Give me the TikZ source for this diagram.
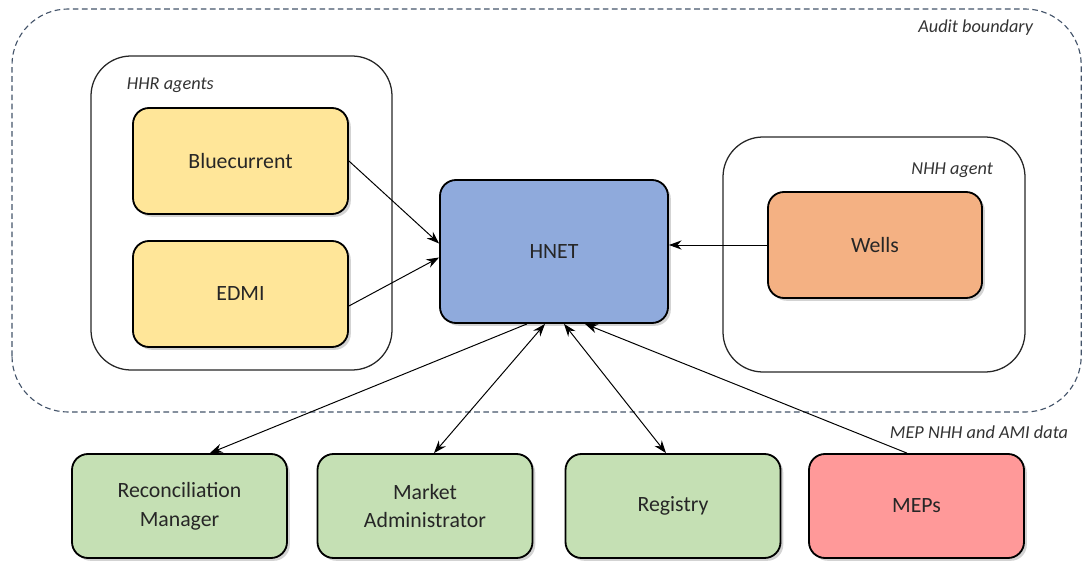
\documentclass[tikz,border=0pt]{standalone}
\usepackage{fontspec}
\setmainfont{Carlito}
\usetikzlibrary{arrows.meta,calc,shadows}
\definecolor{hhrfill}{HTML}{FFE699}
\definecolor{hnetfill}{HTML}{8FAADC}
\definecolor{nhhfill}{HTML}{F4B183}
\definecolor{partyfill}{HTML}{C5E0B4}
\definecolor{mepfill}{HTML}{FF9999}
\definecolor{auditline}{HTML}{44546A}
\tikzset{box/.style={draw=black,line width=1.3pt,rounded corners=0.4cm,minimum width=5.375cm,minimum height=2.6cm,align=center,text=black!85,font=\fontsize{15.5}{20.5}\selectfont,drop shadow={shadow xshift=0.07cm,shadow yshift=-0.07cm,opacity=0.35}},
  grp/.style={draw=black!85,line width=0.9pt,rounded corners=1cm},
  grplbl/.style={font=\fontsize{13}{15}\selectfont\itshape,text=black!80},
  flow/.style={line width=0.7pt}}
\begin{document}
\begin{tikzpicture}[>={Stealth[length=9pt,width=6.5pt]},line join=round]
\useasboundingbox (0,0) rectangle (27.075,14.075);
% --- audit boundary and agent groups
\draw[auditline,line width=0.8pt,dash pattern=on 4pt off 2.5pt,rounded corners=1.4cm] (0.3,3.775) rectangle (27.03,13.85);
\node[grplbl,anchor=east] (audit) at (25.95,13.375) {Audit boundary};
\draw[grp] (2.275,4.825) rectangle (9.8,12.675);
\node[grplbl,anchor=west] (hhr) at (3.05,11.95) {HHR agents};
\draw[grp] (18.075,4.775) rectangle (25.625,10.65);
\node[grplbl,anchor=east] (nhh) at (24.95,9.825) {NHH agent};
\node[grplbl,anchor=east] (mepdata) at (26.825,3.275) {MEP NHH and AMI data};
% --- participants
\node[box,fill=hhrfill,minimum height=2.65cm] (blue) at (6.0125,10.05) {Bluecurrent};
\node[box,fill=hhrfill,minimum height=2.65cm] (edmi) at (6.0125,6.725) {EDMI};
\node[box,fill=hnetfill,minimum width=5.7cm,minimum height=3.575cm] (hnet) at (13.85,7.7875) {HNET};
\node[box,fill=nhhfill,minimum width=5.35cm,minimum height=2.65cm] (wells) at (21.875,7.95) {Wells};
\node[box,fill=partyfill] (recon) at (4.4875,1.425) {Reconciliation\\Manager};
\node[box,fill=partyfill] (market) at (10.625,1.425) {Market\\Administrator};
\node[box,fill=partyfill] (registry) at (16.825,1.425) {Registry};
\node[box,fill=mepfill] (meps) at (22.9125,1.425) {MEPs};
% --- data flows
\draw[->,flow] (blue.east) -- ([yshift=0.2cm]hnet.west);
\draw[->,flow] ([yshift=-0.3cm]edmi.east) -- ([yshift=-0.15cm]hnet.west);
\draw[->,flow] (wells.west) -- (wells.west -| hnet.east);
\draw[->,flow] ([xshift=-0.675cm]hnet.south) -- ([xshift=0.76cm]recon.north);
\draw[<->,flow] ([xshift=-0.225cm]hnet.south) -- ([xshift=0.225cm]market.north);
\draw[<->,flow] ([xshift=0.25cm]hnet.south) -- ([xshift=-0.175cm]registry.north);
\draw[->,flow] ([xshift=-0.24cm]meps.north) -- ([xshift=0.775cm]hnet.south);
\end{tikzpicture}
\end{document}
